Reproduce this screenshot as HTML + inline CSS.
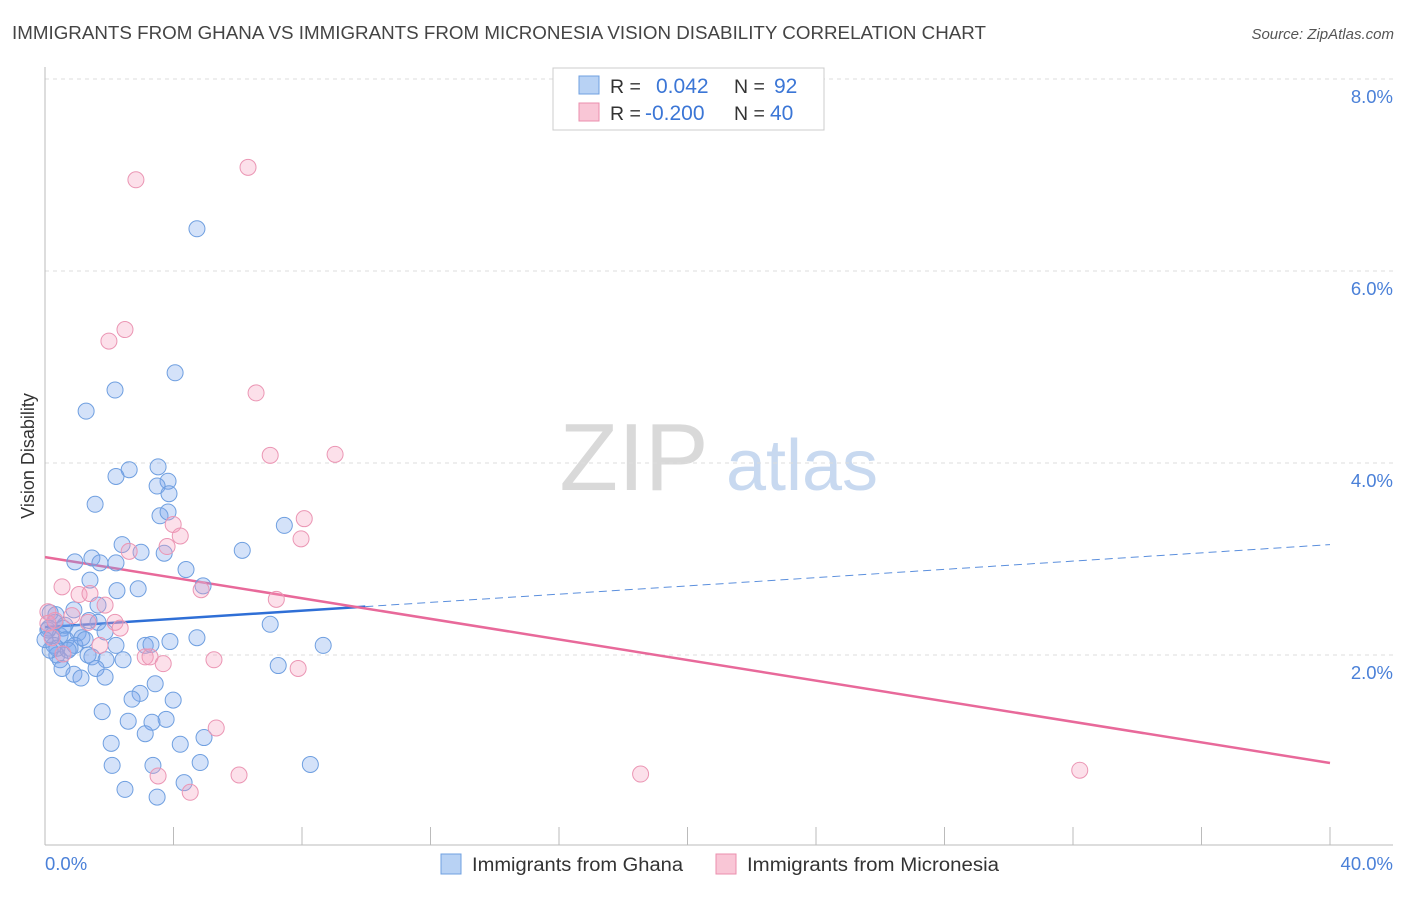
<!DOCTYPE html>
<html><head><meta charset="utf-8">
<style>
body{margin:0;background:#fff;font-family:"Liberation Sans",sans-serif;}
svg text{font-family:"Liberation Sans",sans-serif;}
</style></head>
<body>
<svg id="chart" width="1406" height="892" xmlns="http://www.w3.org/2000/svg">
<text x="12" y="39" font-size="18" fill="#444" textLength="974" lengthAdjust="spacingAndGlyphs">IMMIGRANTS FROM GHANA VS IMMIGRANTS FROM MICRONESIA VISION DISABILITY CORRELATION CHART</text>
<text x="1394" y="39" font-size="15" fill="#555" text-anchor="end" font-style="italic">Source: ZipAtlas.com</text>
<text x="634" y="490" font-size="96" fill="#d9d9d9" text-anchor="middle" font-family="Liberation Serif">ZIP</text>
<text x="802" y="490" font-size="72" fill="#c8d9f0" text-anchor="middle">atlas</text>
<g id="grid"></g>
<g id="axes"></g>
<g id="lines"></g>
<g id="pts"></g>
<text transform="translate(34,456) rotate(-90)" font-size="18" fill="#333" text-anchor="middle">Vision Disability</text>
<g>
<rect x="553" y="68" width="271" height="62" fill="#fff" stroke="#ccc"/>
<rect x="579" y="76" width="20" height="18" fill="#b8d2f4" stroke="#6fa0e0"/>
<rect x="579" y="103" width="20" height="18" fill="#f9c6d6" stroke="#eb8fae"/>
<text x="610" y="93" font-size="19.5" fill="#333">R =</text>
<text x="656" y="93" font-size="21" fill="#3b76d6">0.042</text>
<text x="734" y="93" font-size="19.5" fill="#333">N =</text>
<text x="774" y="93" font-size="21" fill="#3b76d6">92</text>
<text x="610" y="120" font-size="19.5" fill="#333">R =</text>
<text x="645" y="120" font-size="21" fill="#3b76d6">-0.200</text>
<text x="734" y="120" font-size="19.5" fill="#333">N =</text>
<text x="770" y="120" font-size="21" fill="#3b76d6">40</text>
</g>
<g>
<rect x="441" y="854" width="20" height="20" fill="#b8d2f4" stroke="#6fa0e0"/>
<text x="472" y="871" font-size="19" fill="#333" textLength="211" lengthAdjust="spacingAndGlyphs">Immigrants from Ghana</text>
<rect x="716" y="854" width="20" height="20" fill="#f9c6d6" stroke="#eb8fae"/>
<text x="747" y="871" font-size="19" fill="#333" textLength="252" lengthAdjust="spacingAndGlyphs">Immigrants from Micronesia</text>
</g>
</svg>
<script>
const blueX=[4.73,4.05,2.18,1.28,2.62,3.52,2.21,3.83,3.49,3.86,1.56,3.58,3.83,7.45,2.40,6.14,2.99,3.71,1.46,0.93,1.71,2.21,4.39,1.40,4.92,2.90,2.24,0.90,1.65,0.16,0.34,1.37,7.01,1.65,0.12,0.56,1.03,1.87,0.22,0.47,0.65,1.15,2.21,3.12,3.30,3.89,4.73,8.66,0.28,0.78,0.37,1.34,1.46,0.47,1.90,2.43,7.26,0.53,1.59,0.90,1.87,1.12,3.43,2.96,2.71,3.99,1.78,2.59,3.77,3.33,3.12,2.06,4.21,4.95,2.09,3.36,4.83,8.26,4.33,2.49,3.49,0.37,0.09,0.62,0.93,1.25,0.31,0.72,0.16,0.00];
const blueY=[6.44,4.94,4.76,4.54,3.93,3.96,3.86,3.81,3.76,3.68,3.57,3.45,3.49,3.35,3.15,3.09,3.07,3.06,3.01,2.97,2.96,2.96,2.89,2.78,2.72,2.69,2.67,2.47,2.52,2.44,2.42,2.36,2.32,2.34,2.28,2.28,2.23,2.24,2.20,2.20,2.16,2.18,2.10,2.10,2.11,2.14,2.18,2.10,2.10,2.07,2.00,2.00,1.98,1.95,1.95,1.95,1.89,1.86,1.86,1.80,1.77,1.76,1.70,1.60,1.54,1.53,1.41,1.31,1.33,1.30,1.18,1.08,1.07,1.14,0.85,0.85,0.88,0.86,0.67,0.60,0.52,2.07,2.26,2.31,2.10,2.16,2.34,2.05,2.05,2.16];
const pinkX=[2.83,6.32,2.49,1.99,6.57,7.01,9.03,8.07,3.99,4.21,7.97,3.80,2.62,0.53,1.06,1.40,4.86,1.87,7.20,0.09,0.84,0.31,1.34,2.18,2.34,0.09,1.71,0.56,3.12,3.27,3.68,5.26,7.88,5.33,3.52,6.04,4.52,18.54,32.21,0.22];
const pinkY=[6.95,7.08,5.39,5.27,4.73,4.08,4.09,3.42,3.36,3.24,3.21,3.13,3.08,2.71,2.63,2.64,2.68,2.52,2.58,2.45,2.41,2.36,2.34,2.34,2.28,2.33,2.10,2.01,1.98,1.98,1.91,1.95,1.86,1.24,0.74,0.75,0.57,0.76,0.80,2.18];
const yTicks=[2,4,6,8];
const yTickLabels=["2.0%","4.0%","6.0%","8.0%"];
const xTicks=[0,4,8,12,16,20,24,28,32,36,40];
const blueTrend=[2.29,3.15]; const blueSolidEnd=9.97;
const pinkTrend=[3.02,0.875];
const NS="http://www.w3.org/2000/svg";
const X=v=>45+v*32.125, Y=v=>847-v*96;
function mk(tag,attrs,parent){const e=document.createElementNS(NS,tag);for(const k in attrs)e.setAttribute(k,attrs[k]);parent.appendChild(e);return e;}
const grid=document.getElementById('grid'),axes=document.getElementById('axes'),lines=document.getElementById('lines'),pts=document.getElementById('pts');
yTicks.forEach((t,i)=>{
 const l=mk('line',{x1:45,x2:1393,y1:Y(t),y2:Y(t),stroke:'#ddd','stroke-dasharray':'4,4'},grid);
 
 
 const tx=mk('text',{x:1393,y:Y(t)+24,'font-size':18.5,fill:'#4a80d8','text-anchor':'end'},axes);
 tx.textContent=yTickLabels[i];
 
 
});
mk('line',{x1:45,x2:45,y1:67,y2:845,stroke:'#bbb'},axes);
mk('line',{x1:45,x2:1393,y1:845,y2:845,stroke:'#bbb'},axes);
xTicks.forEach(t=>{
 const l=mk('line',{x1:X(t),x2:X(t),y1:827,y2:845,stroke:'#bbb'},axes);
 
 
});
const xl0=mk('text',{x:45,y:870,'font-size':18.5,fill:'#4a80d8'},axes);xl0.textContent="0.0%";


const xl1=mk('text',{x:1393,y:870,'font-size':18.5,fill:'#4a80d8','text-anchor':'end'},axes);xl1.textContent="40.0%";


blueX.forEach((x,i)=>{
 const c=mk('circle',{cx:X(x),cy:Y(blueY[i]),r:8,fill:'rgba(120,165,235,0.32)',stroke:'#6f9fe0','stroke-width':1},pts);
 
 
});
pinkX.forEach((x,i)=>{
 const c=mk('circle',{cx:X(x),cy:Y(pinkY[i]),r:8,fill:'rgba(245,160,190,0.32)',stroke:'#eb96b4','stroke-width':1},pts);
 
 
});
const bAt=v=>blueTrend[0]+(blueTrend[1]-blueTrend[0])*v/40;
const b1=mk('line',{x1:X(0),y1:Y(bAt(0)),x2:X(blueSolidEnd),y2:Y(bAt(blueSolidEnd)),stroke:'#2f6fd6','stroke-width':2.5},lines);


const b2=mk('line',{x1:X(blueSolidEnd),y1:Y(bAt(blueSolidEnd)),x2:X(40),y2:Y(bAt(40)),stroke:'#5b8fdd','stroke-width':1,'stroke-dasharray':'8,5'},lines);


const p1=mk('line',{x1:X(0),y1:Y(pinkTrend[0]),x2:X(40),y2:Y(pinkTrend[1]),stroke:'#e8699a','stroke-width':2.5},lines);


</script>
</body></html>
